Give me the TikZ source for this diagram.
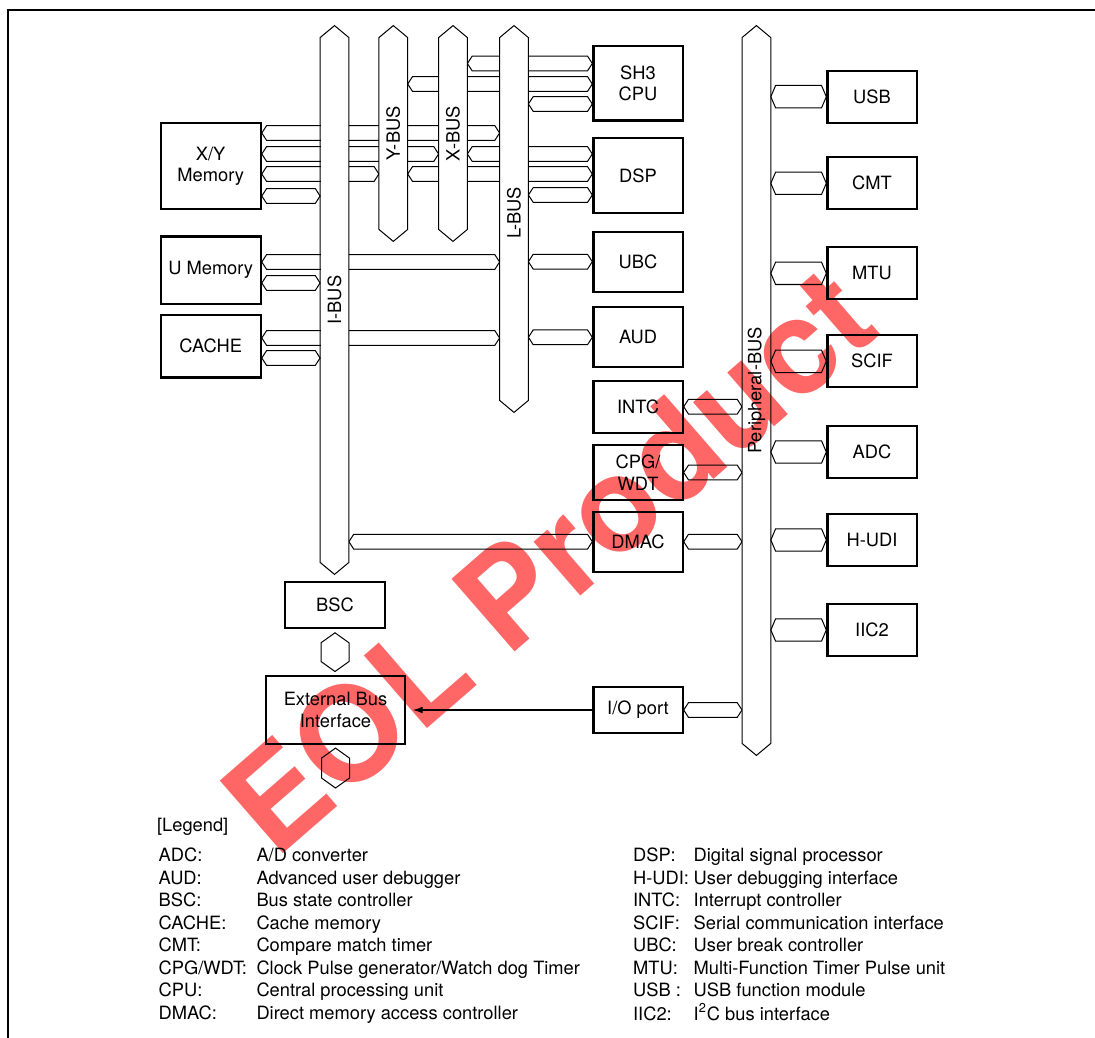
\documentclass[tikz,border=0pt]{standalone}
\usepackage{fontspec}
\setmainfont{TeX Gyre Heros}
\usepackage{graphicx}
\usetikzlibrary{positioning, arrows.meta, calc}
\pgfdeclarelayer{back}
\pgfsetlayers{back,main}

\begin{document}
\begin{tikzpicture}[
    x=0.5pt, y=-0.5pt,
    font=\fontsize{9.15}{10.8}\selectfont,
    block/.style={rectangle, draw, line width=1.1pt, minimum width=44.6pt, align=center, inner sep=0pt},
    bus/.style={rectangle, fill=white, minimum width=14pt, inner sep=0pt},
    busline/.style={line width=0.5pt},
    hstub/.style={draw, fill=white, line width=0.5pt, to path={let \p1=(\tikztostart), \p2=(\tikztotarget) in
        -- (\x1+2.4pt,\y1+#1) -- (\x2-2.4pt,\y1+#1) -- (\x2,\y1) -- (\x2-2.4pt,\y1-#1) -- (\x1+2.4pt,\y1-#1) -- cycle}},
    hstub/.default=3.7pt,
    vstub/.style={draw, fill=white, line width=0.5pt, to path={let \p1=(\tikztostart), \p2=(\tikztotarget) in
        -- (\x1+7pt,\y1-5pt) -- (\x1+7pt,\y2+5pt) -- (\x1,\y2) -- (\x1-7pt,\y2+5pt) -- (\x1-7pt,\y1-5pt) -- cycle}},
    arrow/.style={-{Latex[length=5pt,width=3.4pt]}, line width=0.6pt},
    legendtab/.style={anchor=base west, inner sep=0pt, font=\fontsize{9.15}{11.25}\selectfont}
  ]
    \useasboundingbox (0,0) rectangle (1095,1037);
    \draw[line width=1.2pt] (8,1045) -- (8,10) -- (1100,10);

    % buses
    \node[bus, minimum height=262pt] (ibus) at (334.5,300) {\rotatebox{90}{I-BUS}};
    \node[bus, minimum height=95.5pt] (ybus) at (393.3,133.5) {\rotatebox{90}{Y-BUS}};
    \node[bus, minimum height=95.5pt] (xbus) at (453,133.5) {\rotatebox{90}{X-BUS}};
    \node[bus, minimum height=181pt] (lbus) at (514,219) {\rotatebox{90}{\hspace*{6pt}L-BUS}};
    \node[bus, minimum height=352.5pt] (pbus) at (756.4,390.5) {\rotatebox{90}{Peripheral-BUS}};
    \foreach \b in {ibus,ybus,xbus,lbus,pbus}
      \draw[busline] (\b.south west) -- (\b.north west) -- ([yshift=6pt]\b.north) -- (\b.north east)
        -- (\b.south east) -- ([yshift=-6pt]\b.south) -- cycle;

    % modules
    \node[block, minimum width=50pt, minimum height=43pt] (xymem) at (210.7,166.3) {X/Y\\Memory};
    \node[block, minimum width=50pt, minimum height=33.7pt] (umem) at (210.7,270.3) {U Memory};
    \node[block, minimum width=50pt, minimum height=31.2pt] (cache) at (210.7,346.2) {CACHE};
    \node[block, minimum height=37.3pt] (cpu) at (638,83.3) {SH3\\CPU};
    \node[block, minimum height=37.5pt] (dsp) at (638,175.8) {DSP};
    \node[block, minimum height=30pt] (ubc) at (638,261.7) {UBC};
    \node[block, minimum height=30pt] (aud) at (638,337.3) {AUD};
    \node[block, minimum height=26pt] (intc) at (638,406.7) {INTC};
    \node[block, minimum height=27.5pt] (cpg) at (638,472.5) {CPG/\\WDT};
    \node[block, minimum height=30pt] (dmac) at (638,541.7) {DMAC};
    \node[block, minimum height=22.7pt] (ioport) at (638,710) {I/O port};
    \node[block, minimum width=50pt, minimum height=23.3pt] (bsc) at (335,605) {BSC};
    \node[block, minimum width=69.5pt, minimum height=34pt] (ebi) at (335.5,710) {External Bus\\Interface};
    \coordinate (extbus) at (335,788);
    \foreach \m/\t/\y in {usb/USB/96.7, cmt/CMT/183.3, mtu/MTU/273.3, scif/SCIF/361.3,
                          adc/ADC/452, hudi/H-UDI/540, iic2/IIC2/630}
      \node[block, minimum height=26pt] (\m) at (872,\y) {\t};

    % bus connections
    \begin{pgfonlayer}{back}
      \draw[hstub] (xbus.east |- 0,63.5) to (cpu.west |- 0,63.5);
      \draw[hstub] (ybus.east |- 0,84) to (cpu.west |- 0,84);
      \draw[hstub] (lbus.east |- 0,104) to (cpu.west |- 0,104);
      \draw[hstub] (xbus.east |- 0,154) to (dsp.west |- 0,154);
      \draw[hstub] (ybus.east |- 0,174) to (dsp.west |- 0,174);
      \draw[hstub] (lbus.east |- 0,195) to (dsp.west |- 0,195);
      \draw[hstub] (xymem.east |- 0,133) to (lbus.west |- 0,133);
      \draw[hstub] (xymem.east |- 0,154) to (xbus.west |- 0,154);
      \draw[hstub] (xymem.east |- 0,174) to (ybus.west |- 0,174);
      \draw[hstub] (xymem.east |- 0,196) to (ibus.west |- 0,196);
      \draw[hstub] (umem.east |- 0,262) to (lbus.west |- 0,262);
      \draw[hstub] (umem.east |- 0,283) to (ibus.west |- 0,283);
      \draw[hstub] (cache.east |- 0,338) to (lbus.west |- 0,338);
      \draw[hstub] (cache.east |- 0,358) to (ibus.west |- 0,358);
      \draw[hstub] (lbus.east |- ubc) to (ubc.west);
      \draw[hstub] (lbus.east |- aud) to (aud.west);
      \draw[hstub] (ibus.east |- dmac) to (dmac.west);
      \foreach \m in {intc,cpg,dmac,ioport}
        \draw[hstub] (\m.east) to (pbus.west |- \m.east);
      \foreach \m in {usb,cmt,mtu,scif,adc,hudi,iic2}
        \draw[hstub=5.6pt] (pbus.east |- \m.west) to (\m.west);
      \draw[vstub] ([yshift=-1.7pt]bsc.south) to ([yshift=1.7pt]ebi.north);
      \draw[vstub] ([yshift=-1.5pt]ebi.south) to (extbus);
    \end{pgfonlayer}
    \draw[arrow, shorten >=3.3pt] (ioport) -- (ebi);

    % legend
    \node[legendtab] (legend) at (156.7,831.7) {[Legend]};
    \node[legendtab] (legleft) at (158.3,861.7) {\begin{tabular}[t]{@{}p{48.9pt}@{}l@{}}
      ADC: & A/D converter\\
      AUD: & Advanced user debugger\\
      BSC: & Bus state controller\\
      CACHE: & Cache memory\\
      CMT: & Compare match timer\\
      CPG/WDT: & Clock Pulse generator/Watch dog Timer\\
      CPU: & Central processing unit\\
      DMAC: & Direct memory access controller
    \end{tabular}};
    \node[legendtab] (legright) at (632.7,861.7) {\begin{tabular}[t]{@{}p{30.3pt}@{}l@{}}
      DSP: & Digital signal processor\\
      H-UDI: & User debugging interface\\
      INTC: & Interrupt controller\\
      SCIF: & Serial communication interface\\
      UBC: & User break controller\\
      MTU: & Multi-Function Timer Pulse unit\\
      USB : & USB function module\\
      IIC2: & I\textsuperscript{2}C bus interface
    \end{tabular}};

    % watermark
    \begin{scope}[blend mode=multiply]
      \node[rotate=41, text=red!60, font=\fontsize{66}{66}\selectfont\bfseries] (eol) at (548,560) {EOL Product};
    \end{scope}
  \end{tikzpicture}
\end{document}
